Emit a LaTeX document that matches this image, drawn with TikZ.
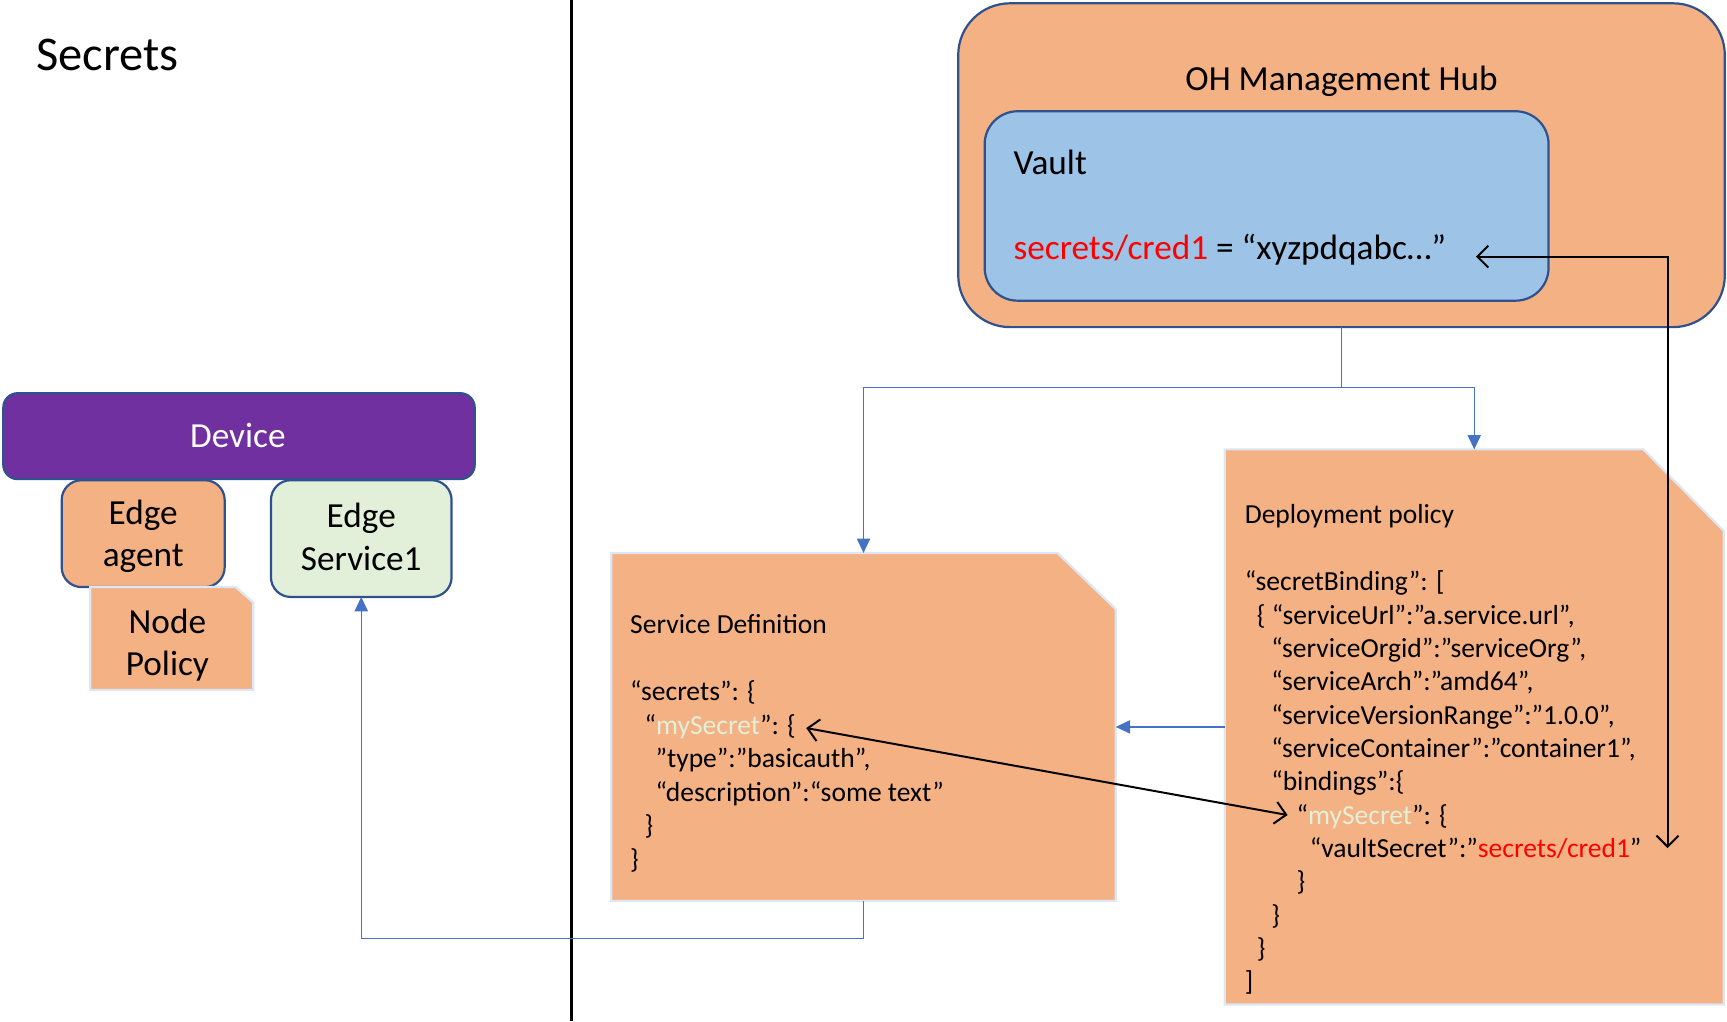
\documentclass[tikz,border=0pt]{standalone}
\usepackage{fontspec}
\setmainfont{Carlito}
\usetikzlibrary{arrows.meta}
\definecolor{orfill}{HTML}{F4B183}
\definecolor{vaultfill}{HTML}{9DC3E6}
\definecolor{devfill}{HTML}{7030A0}
\definecolor{greenfill}{HTML}{E2F0D9}
\definecolor{boxline}{HTML}{2F528F}
\definecolor{snipline}{HTML}{DCE6F4}
\definecolor{conn}{HTML}{4472C4}
\definecolor{redtxt}{HTML}{FF0000}
\definecolor{keytxt}{HTML}{E2F0D9}
\tikzset{
  rbox/.style={rectangle, draw=boxline, line width=2pt, inner sep=0pt, outer sep=0pt},
  frame/.style={rectangle, inner sep=0pt, outer sep=0pt},
  snipshape/.style={fill=orfill, draw=snipline, line width=2pt, line join=miter},
  titletxt/.style={font=\fontsize{44}{52}\selectfont, inner sep=0pt, anchor=base west},
  lbl/.style={font=\fontsize{32}{38}\selectfont, inner sep=0pt, anchor=base},
  lblw/.style={font=\fontsize{32}{38}\selectfont, inner sep=0pt, anchor=base west},
  code/.style={font=\fontsize{25}{30}\selectfont, inner sep=0pt, anchor=base west},
  blueplain/.style={draw=conn, line width=1.3pt},
  bluearrow/.style={draw=conn, line width=1.3pt, -{Triangle[length=13pt,width=12pt]}},
  blackarrow/.style={draw=black, line width=1.8pt, {Straight Barb[length=10pt,width=20pt]}-{Straight Barb[length=10pt,width=20pt]}},
}
\newcommand{\red}[1]{\textcolor{redtxt}{#1}}
\newcommand{\key}[1]{\textcolor{keytxt}{#1}}
\begin{document}
\begin{tikzpicture}[x=1pt, y=-1pt]
\useasboundingbox (0,0) rectangle (1568,927);

% divider
\coordinate (dtop) at (519,0);
\coordinate (dbot) at (519,927);
\draw[line width=3pt] (dtop) -- (dbot);

% title
\node[titletxt] (ttl) at (33,64) {Secrets};

% management hub
\node[rbox, fill=orfill, rounded corners=47pt, minimum width=696pt, minimum height=294pt] (oh) at (1218,150) {};
\node[rbox, fill=vaultfill, rounded corners=30pt, minimum width=512pt, minimum height=172pt] (vault) at (1150,187) {};
\node[lbl] (ohl) at (1218,82.5) {OH Management Hub};
\node[lblw] (vl) at (920,158) {Vault};
\node[lblw] (vs) at (920,236) {\red{secrets/cred1} = “xyzpdqabc…”};

% device side
\node[rbox, fill=devfill, rounded corners=13pt, minimum width=428pt, minimum height=78pt] (device) at (217,396) {};
\node[rbox, fill=orfill, rounded corners=18pt, minimum width=148pt, minimum height=97pt] (agent) at (130,484.5) {};
\node[rbox, fill=greenfill, rounded corners=18pt, minimum width=164pt, minimum height=106pt] (svc) at (328,489) {};
\node[frame, minimum width=148pt, minimum height=93.5pt] (np) at (156,579.75) {};
\draw[snipshape] (np.south west) -- (np.north west) -- ([xshift=-16pt]np.north east) -- ([yshift=-14pt]np.north east) -- (np.south east) -- cycle;

\node[lbl, text=white] (devl) at (216,406.5) {Device};
\node[lbl] (ag1) at (130,476) {Edge};
\node[lbl] (ag2) at (130,514) {agent};
\node[lbl] (sv1) at (328,479) {Edge};
\node[lbl] (sv2) at (328,518) {Service1};
\node[lbl] (np1) at (152,575) {Node};
\node[lbl] (np2) at (152,613) {Policy};

% service definition
\node[frame, minimum width=458pt, minimum height=316pt] (sd) at (784,660) {};
\draw[snipshape] (sd.south west) -- (sd.north west) -- ([xshift=-53pt]sd.north east) -- ([yshift=-51pt]sd.north east) -- (sd.south east) -- cycle;
\node[code] (sd0) at (572,575) {Service Definition};
\node[code] (sd1) at (572,636) {“secrets”: \{};
\node[code] (sd2) at (585,666.5) {“\key{mySecret}”: \{};
\node[code] (sd3) at (595,697) {”type”:”basicauth”,};
\node[code] (sd4) at (595,727.5) {“description”:“some text”};
\node[code] (sd5) at (585,758) {\}};
\node[code] (sd6) at (572,788.5) {\}};

% deployment policy
\node[frame, minimum width=453pt, minimum height=504pt] (dp) at (1338.5,660) {};
\draw[snipshape] (dp.south west) -- (dp.north west) -- ([xshift=-73pt]dp.north east) -- ([yshift=-74pt]dp.north east) -- (dp.south east) -- cycle;
\node[code] (dp0) at (1130,475) {Deployment policy};
\node[code] (dp1) at (1130,536.5) {“secretBinding”: [};
\node[code] (dp2) at (1141,566.8) {\{ “serviceUrl”:”a.service.url”,};
\node[code] (dp3) at (1154,597) {“serviceOrgid”:”serviceOrg”,};
\node[code] (dp4) at (1154,627.3) {“serviceArch”:”amd64”,};
\node[code] (dp5) at (1154,657.5) {“serviceVersionRange”:”1.0.0”,};
\node[code] (dp6) at (1154,687.8) {“serviceContainer”:”container1”,};
\node[code] (dp7) at (1154,718) {“bindings”:\{};
\node[code] (dp8) at (1177,748.3) {“\key{mySecret}”: \{};
\node[code] (dp9) at (1189,778.5) {“vaultSecret”:”\red{secrets/cred1}”};
\node[code] (dp10) at (1177,808.8) {\}};
\node[code] (dp11) at (1154,839) {\}};
\node[code] (dp12) at (1141,869.3) {\}};
\node[code] (dp13) at (1130,899.5) {]};

% blue connectors
\draw[blueplain] (oh.south) -- ++(0,55) coordinate (j);
\draw[bluearrow] (j) -| (sd.north);
\draw[bluearrow] (j) -| (dp.north);
\draw[bluearrow] (dp.west) -- (sd.east);
\draw[bluearrow] (sd.south) -- ++(0,34) -| (svc.south);

% black connectors
\coordinate (vtip) at (1340,233);
\coordinate (vend) at (1514,770);
\draw[blackarrow] (vtip) -| (vend);
\coordinate (ms1) at (732,661);
\coordinate (ms2) at (1169,740);
\draw[blackarrow] (ms1) -- (ms2);
\end{tikzpicture}
\end{document}
